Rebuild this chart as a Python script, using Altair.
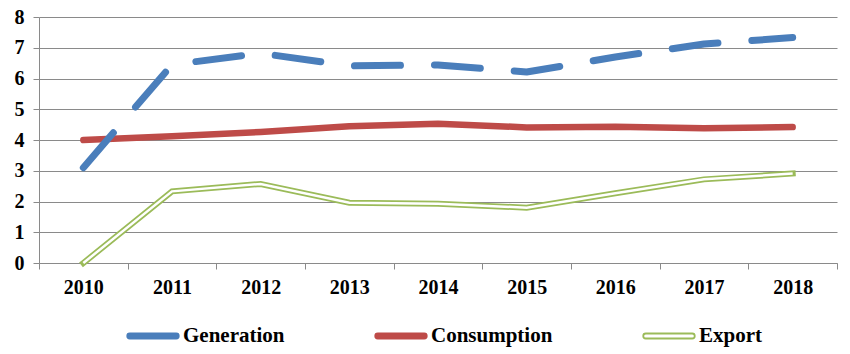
import altair as alt
import pandas as pd

years = ["2010", "2011", "2012", "2013", "2014", "2015", "2016", "2017", "2018"]
generation = [3.1, 6.45, 6.82, 6.41, 6.44, 6.21, 6.7, 7.12, 7.33]
consumption = [4.0, 4.12, 4.26, 4.45, 4.53, 4.41, 4.43, 4.38, 4.42]
export = [0.0, 2.33, 2.57, 1.96, 1.93, 1.8, 2.27, 2.72, 2.91]
y_ticks = [0, 1, 2, 3, 4, 5, 6, 7, 8]

series_names = ["Generation", "Consumption", "Export"]
series_colors = ["#4A7EBB", "#BE4B48", "#9BBB59"]

rows = []
for name, vals in zip(series_names, [generation, consumption, export]):
    for yr, v in zip(years, vals):
        rows.append({"year": yr, "series": name, "value": v})
df = pd.DataFrame(rows)

FONT = "Liberation Serif, 'Times New Roman', Times, 'DejaVu Serif', serif"
GRAY = "#8a8a8a"
legend_path = ("M-0.93,-0.1 L0.93,-0.1 A0.1,0.1 0 0 1 0.93,0.1 "
               "L-0.93,0.1 A0.1,0.1 0 0 1 -0.93,-0.1 Z")

x_enc = alt.X(
    "year:N", sort=years, bandPosition=0.5,
    scale=alt.Scale(type="band", paddingInner=0, paddingOuter=0),
    axis=alt.Axis(title=None, labelAngle=0, tickBand="extent", grid=False,
                  domainColor=GRAY, tickColor=GRAY, tickSize=6,
                  labelFont=FONT, labelFontSize=20, labelFontWeight="bold",
                  labelColor="black", labelPadding=8),
)
y_enc = alt.Y(
    "value:Q",
    scale=alt.Scale(domain=[0, 8], nice=False),
    axis=alt.Axis(title=None, values=y_ticks, grid=True, gridColor=GRAY,
                  domainColor=GRAY, tickColor=GRAY, tickSize=6,
                  labelFont=FONT, labelFontSize=20, labelFontWeight="bold",
                  labelColor="black", labelPadding=9),
)
color_enc = alt.Color(
    "series:N",
    scale=alt.Scale(domain=series_names, range=series_colors),
    legend=alt.Legend(
        title=None, orient="none", legendX=88, legendY=293,
        direction="horizontal", symbolType=legend_path, symbolSize=2500,
        labelFont=FONT, labelFontSize=21, labelFontWeight="bold",
        labelColor="black", labelOffset=4, columnPadding=86,
        symbolFillColor={"expr": "datum.value === 'Export' ? 'white' : scale('color', datum.value)"},
        symbolStrokeColor={"expr": "scale('color', datum.value)"},
        symbolStrokeWidth=1.8, symbolOpacity=1,
    ),
)

base = alt.Chart(df)

cons = base.transform_filter(alt.datum.series == "Consumption").mark_line(
    strokeWidth=6.5, strokeCap="round", strokeJoin="round"
).encode(x=x_enc, y=y_enc, color=color_enc)

gen = base.transform_filter(alt.datum.series == "Generation").mark_line(
    strokeWidth=7, strokeDash=[46, 34], strokeCap="round", strokeJoin="round"
).encode(x=x_enc, y=y_enc, color=color_enc)

exp_outer = base.transform_filter(alt.datum.series == "Export").mark_line(
    strokeWidth=6, strokeCap="square", strokeJoin="miter"
).encode(x=x_enc, y=y_enc, color=color_enc)

exp_inner = base.transform_filter(alt.datum.series == "Export").mark_line(
    strokeWidth=2.5, strokeCap="butt", strokeJoin="miter", color="white"
).encode(x=x_enc, y=y_enc)

chart = alt.layer(cons, gen, exp_outer, exp_inner).properties(
    width=798, height=246, autosize="none",
    padding={"left": 39, "top": 17, "right": 13, "bottom": 91},
    background="white",
).configure_view(stroke=None)

chart.save("out.html", embed_options={"renderer": "svg", "actions": False})
